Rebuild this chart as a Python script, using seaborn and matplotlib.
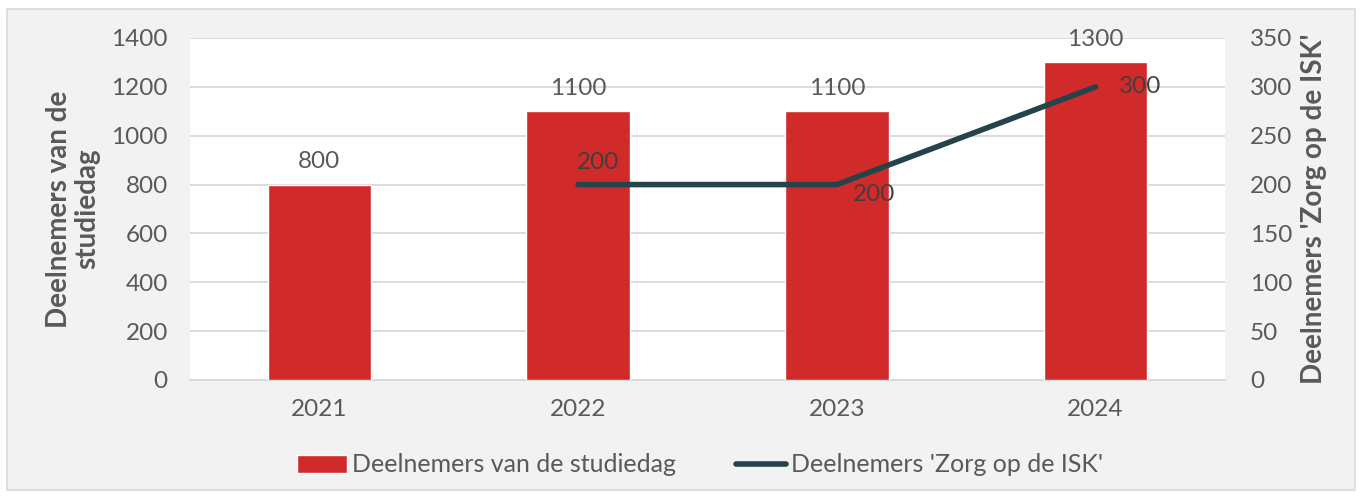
import numpy as np
import pandas as pd
import matplotlib
matplotlib.use("Agg")
import matplotlib.pyplot as plt
from matplotlib.patches import Rectangle
import seaborn as sns

years = ["2021", "2022", "2023", "2024"]
studiedag = [800, 1100, 1100, 1300]
zorg_isk = [np.nan, 200, 200, 300]
bar_name = "Deelnemers van de studiedag"
line_name = "Deelnemers 'Zorg op de ISK'"
left_label = "Deelnemers van de\nstudiedag"
right_label = "Deelnemers 'Zorg op de ISK'"

sns.set_theme(style="white")
plt.rcParams['font.family'] = ['Lato', 'DejaVu Sans']

RED = "#d12a2a"
TEAL = "#25434a"
TXT = "#595959"
GRID = "#d9d9d9"
FS = 17.5
AFS = 20
LEGFS = 18

fig = plt.figure(figsize=(13.62, 4.97), dpi=100)
fig.patch.set_facecolor("white")
fig.patches.append(Rectangle((7/1362, 7/497), 1348/1362, 481/497, transform=fig.transFigure,
                             facecolor="#f2f2f2", edgecolor=GRID, linewidth=1.2, zorder=-10))
ax = fig.add_axes([190/1362, 1-380/497, (1225-190)/1362, (380-38)/497])
ax.set_facecolor("white")

df = pd.DataFrame({"year": years, "studiedag": studiedag, "zorg": zorg_isk})
sns.barplot(data=df, x="year", y="studiedag", color=RED, width=0.4, ax=ax,
            saturation=1, label=bar_name, zorder=3)
if ax.get_legend() is not None:
    ax.get_legend().remove()
ax.set_ylim(0, 1400)
ax.set_yticks(np.arange(0, 1401, 200))
ax.grid(axis="y", color=GRID, linewidth=1.3, zorder=0)
ax.set_axisbelow(True)
for s in ["top", "left", "right"]:
    ax.spines[s].set_visible(False)
ax.spines["bottom"].set_color(GRID)
ax.spines["bottom"].set_linewidth(1.3)
ax.tick_params(axis="both", length=0, labelsize=FS, labelcolor=TXT)
ax.tick_params(axis="y", pad=16)
ax.tick_params(axis="x", pad=14)
ax.set_xlabel("")
ax.set_ylabel(left_label, fontsize=AFS, fontweight="bold", color=TXT, labelpad=8, linespacing=1.1)
ax.set_xlim(-0.5, 3.5)
ax.bar_label(ax.containers[0], labels=[f"{v}" for v in studiedag], padding=9, fontsize=FS, color=TXT)

ax2 = ax.twinx()
pos = np.arange(len(years))
sns.lineplot(x=pos, y=zorg_isk, ax=ax2, color=TEAL, linewidth=4, label=line_name,
             solid_capstyle="round", legend=False)
ax2.set_ylim(0, 350)
ax2.set_yticks(np.arange(0, 351, 50))
for s in ["top", "left", "right", "bottom"]:
    ax2.spines[s].set_visible(False)
ax2.tick_params(axis="y", length=0, labelsize=FS, labelcolor=TXT, pad=18)
ax2.set_ylabel(right_label, fontsize=AFS, fontweight="bold", color=TXT, labelpad=6)
ax2.grid(False)
ax2.set_xlim(-0.5, 3.5)

offsets = {1: (14, 16), 2: (27, -7), 3: (32, 0)}
for i, v in enumerate(zorg_isk):
    if np.isnan(v):
        continue
    dx, dy = offsets[i]
    ax2.annotate(f"{int(v)}", (pos[i], v), xytext=(dx, dy), textcoords="offset points",
                 ha="center", va="center", fontsize=FS, color="#404040")

h1, l1 = ax.get_legend_handles_labels()
h2, l2 = ax2.get_legend_handles_labels()
leg = fig.legend(h1 + h2, l1 + l2, loc="center", bbox_to_anchor=(700/1362, 1-465/497), ncol=2,
                 frameon=False, fontsize=LEGFS, handlelength=2.0, handletextpad=0.2, columnspacing=2.4)
for t in leg.get_texts():
    t.set_color(TXT)

fig.savefig("out.png", dpi=100, facecolor=fig.get_facecolor())
